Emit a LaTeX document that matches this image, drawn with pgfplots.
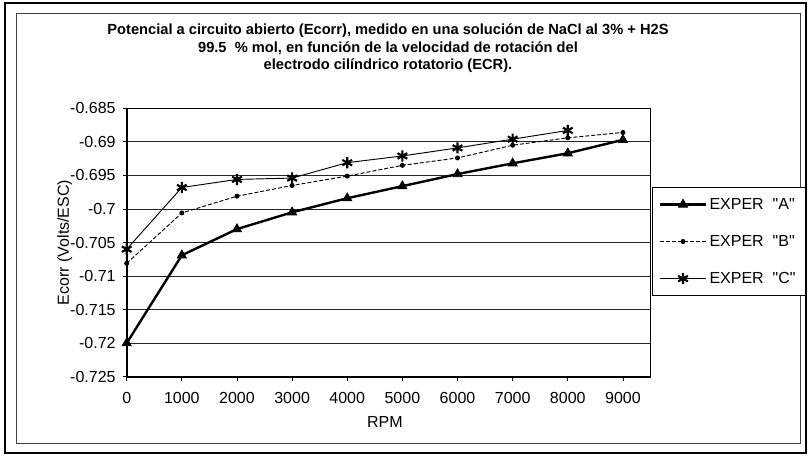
\documentclass[border=0pt]{standalone}
\usepackage{fontspec}
\setmainfont{Liberation Sans}
\usepackage{pgfplots}
\pgfplotsset{compat=1.18}
\begin{document}
\begin{tikzpicture}
\begin{scope}[x=0.75pt,y=-0.75pt]
\useasboundingbox (0,0) rectangle (808,456);
\fill[white] (0,0) rectangle (808,456);
\draw[line width=2.2pt] (5,3) rectangle (806,453);
\draw[line width=0.6pt, black!75] (16,13) rectangle (800,443);
\node[anchor=base, font=\bfseries\fontsize{11}{13}\selectfont] at (388,35) {Potencial a circuito abierto (Ecorr), medido en una solución de NaCl al 3\% + H2S};
\node[anchor=base, font=\bfseries\fontsize{11}{13}\selectfont] at (388,53) {99.5\ \ \% mol, en función de la velocidad de rotación del};
\node[anchor=base, font=\bfseries\fontsize{11}{13}\selectfont] at (388,70) {electrodo cilíndrico rotatorio (ECR).};
\end{scope}
\begin{axis}[
  at={(95.03pt,-282.53pt)}, anchor=south west,
  scale only axis, width=392.85pt, height=201.3pt,
  xmin=0, xmax=9500, ymin=-0.725, ymax=-0.685,
  xtick={0,1000,...,9000},
  xticklabels={0,1000,2000,3000,4000,5000,6000,7000,8000,9000},
  ytick={-0.725,-0.72,-0.715,-0.71,-0.705,-0.7,-0.695,-0.69,-0.685},
  yticklabels={-0.725,-0.72,-0.715,-0.71,-0.705,-0.7,-0.695,-0.69,-0.685},
  tick pos=left, tick align=outside, major tick length=3pt,
  tick style={black, line width=0.6pt},
  axis line style={black, line width=1.2pt},
  ymajorgrids, major grid style={black!85, line width=0.6pt},
  ticklabel style={font=\fontsize{12}{14}\selectfont},
  yticklabel style={xshift=-1.8pt},
  xticklabel style={yshift=-5.4pt},
  xlabel={RPM}, ylabel={Ecorr (Volts/ESC)},
  label style={font=\fontsize{12}{14}\selectfont},
  xlabel style={at={(axis description cs:0.493,0)}, anchor=center, yshift=-34pt},
  ylabel style={at={(axis description cs:-0.1184,0.5)}, anchor=center},
  legend style={at={(rel axis cs:1.003,0.707)}, anchor=north west, draw=black, line width=0.6pt,
    font=\fontsize{12}{14}\selectfont, row sep=14pt, inner xsep=5pt, inner ysep=6pt},
  legend cell align=left,
  legend image code/.code={\draw[mark repeat=2,mark phase=2,#1] plot coordinates {(0pt,0pt) (17pt,0pt) (34pt,0pt)};},
]
\addplot[black, line width=1.8pt, mark=triangle*, mark size=4pt, mark options={solid, line width=0.5pt}] coordinates {
(0,-0.7200) (1000,-0.7069) (2000,-0.7030) (3000,-0.7005) (4000,-0.6984) (5000,-0.6966) (6000,-0.6948) (7000,-0.6932) (8000,-0.6917) (9000,-0.6897)};
\addlegendentry{EXPER\ \ \textquotedbl A\textquotedbl}
\addplot[black, line width=0.7pt, dash pattern=on 3pt off 1.5pt, mark=*, mark size=1.5pt, mark options={solid}] coordinates {
(0,-0.7081) (1000,-0.7006) (2000,-0.6981) (3000,-0.6965) (4000,-0.6951) (5000,-0.6935) (6000,-0.6924) (7000,-0.6905) (8000,-0.6894) (9000,-0.6886)};
\addlegendentry{EXPER\ \ \textquotedbl B\textquotedbl}
\addplot[black, line width=0.7pt, mark=asterisk, mark size=4.2pt, mark options={solid, line width=1.6pt}] coordinates {
(0,-0.7060) (1000,-0.6968) (2000,-0.6956) (3000,-0.6954) (4000,-0.6931) (5000,-0.6921) (6000,-0.6909) (7000,-0.6896) (8000,-0.6883)};
\addlegendentry{EXPER\ \ \textquotedbl C\textquotedbl}
\end{axis}
\end{tikzpicture}
\end{document}
